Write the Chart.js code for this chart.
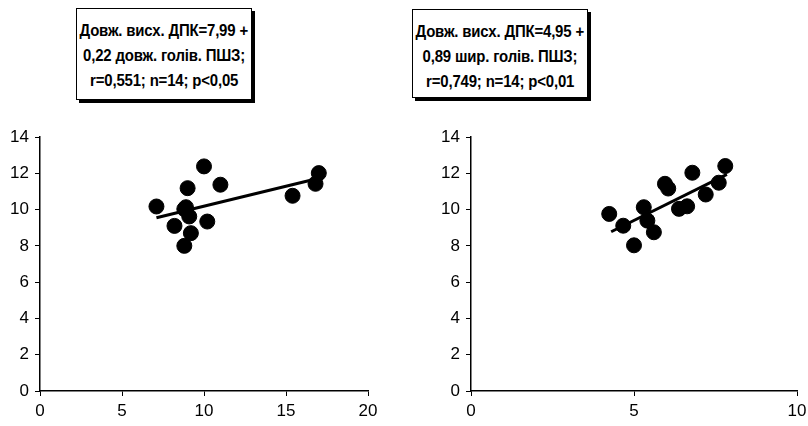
<!DOCTYPE html>
<html><head><meta charset="utf-8">
<script src="https://cdn.jsdelivr.net/npm/chart.js@4/dist/chart.umd.min.js"></script>
<style>
html,body{margin:0;padding:0;width:808px;height:426px;overflow:hidden;background:#fff;}
.cv{position:absolute;}
.box{position:absolute;border:1px solid #000;box-shadow:3px 3px 0 #000;background:#fff;
 font-family:"Liberation Sans",Arial,sans-serif;font-weight:bold;white-space:nowrap;
 font-size:17px;line-height:25px;color:#000;box-sizing:border-box;padding-top:9px;letter-spacing:-0.2px;}
.box .ln{display:flex;justify-content:center;}
.box .ln span{display:inline-block;transform:scaleX(0.88);transform-origin:50% 50%;}
</style></head><body>
<div class="box" id="boxL" style="left:76px;top:8px;width:176px;height:92px;"></div>
<div class="box" id="boxR" style="left:412px;top:9px;width:176px;height:89px;"></div>
<div class="cv" style="left:0;top:120px;width:400px;height:306px;"><canvas id="c1"></canvas></div>
<div class="cv" style="left:408px;top:120px;width:420px;height:306px;"><canvas id="c2"></canvas></div>
<script>
// Left chart: length of duodenum vs length of pancreatic head
const leftX = [7.1, 10.0, 9.0, 11.0, 8.8, 9.1, 8.2, 10.2, 9.2, 8.8, 15.4, 16.8, 17.0, 8.9];
const leftY = [10.17, 12.38, 11.18, 11.37, 10.03, 9.62, 9.10, 9.34, 8.70, 8.00, 10.76, 11.42, 12.01, 10.13];
const leftCoef = [7.99, 0.22];
const leftRange = [7.1, 17.0];
const leftText = ["Довж. висх. ДПК=7,99 +", "0,22 довж. голів. ПШЗ;", "r=0,551; n=14; p<0,05"];
const leftXTicks = [0, 5, 10, 15, 20];

// Right chart: length of duodenum vs width of pancreatic head
const rightX = [4.24, 4.67, 5.0, 5.30, 5.41, 5.61, 5.95, 6.05, 6.38, 6.63, 6.79, 7.20, 7.60, 7.80];
const rightY = [9.76, 9.11, 8.03, 10.13, 9.39, 8.75, 11.42, 11.16, 10.04, 10.18, 12.03, 10.83, 11.48, 12.40];
const rightCoef = [4.95, 0.89];
const rightRange = [4.3, 7.85];
const rightText = ["Довж. висх. ДПК=4,95 +", "0,89 шир. голів. ПШЗ;", "r=0,749; n=14; p<0,01"];
const rightXTicks = [0, 5, 10];

const yTicks = [0, 2, 4, 6, 8, 10, 12, 14];

function fillBox(id, lines){
  const el = document.getElementById(id);
  lines.forEach(t=>{
    const d = document.createElement('div'); d.className = 'ln';
    const s = document.createElement('span'); s.textContent = t;
    d.appendChild(s); el.appendChild(d);
  });
}
fillBox('boxL', leftText);
fillBox('boxR', rightText);

function makeChart(id, xs, ys, coef, range, xTicks, yAxisW, padRight){
  const pts = xs.map((x,i)=>({x:x, y:ys[i]}));
  const line = range.map(x=>({x:x, y:coef[0]+coef[1]*x}));
  const font = {family:"'Liberation Sans', Arial, sans-serif", size:17};
  new Chart(document.getElementById(id), {
    type:'scatter',
    data:{datasets:[
      {data:line, type:'line', borderColor:'#000', borderWidth:3, pointRadius:0, fill:false, order:2},
      {data:pts, backgroundColor:'#000', borderColor:'#000', pointRadius:7.5, pointHoverRadius:7.5, order:1}
    ]},
    options:{
      responsive:true, maintainAspectRatio:false, animation:false,
      layout:{padding:{top:17, right:padRight, left:0, bottom:0}},
      plugins:{legend:{display:false}, tooltip:{enabled:false}},
      scales:{
        x:{type:'linear', min:xTicks[0], max:xTicks[xTicks.length-1],
          afterBuildTicks:(s)=>{s.ticks = xTicks.map(v=>({value:v}));},
          afterFit:(s)=>{s.height = 35;},
          grid:{display:true, drawOnChartArea:false, color:'#000', tickLength:5, tickWidth:1},
          border:{color:'#000', width:1.5},
          ticks:{color:'#000', font:font, padding:5, maxRotation:0, autoSkip:false}},
        y:{type:'linear', min:0, max:14,
          afterBuildTicks:(s)=>{s.ticks = yTicks.map(v=>({value:v}));},
          afterFit:(s)=>{s.width = yAxisW;},
          grid:{display:true, drawOnChartArea:false, color:'#000', tickLength:5, tickWidth:1},
          border:{color:'#000', width:1.5},
          ticks:{color:'#000', font:font, padding:6, autoSkip:false}}
      }
    }
  });
}
makeChart('c1', leftX, leftY, leftCoef, leftRange, leftXTicks, 40, 32);
makeChart('c2', rightX, rightY, rightCoef, rightRange, rightXTicks, 63, 31);
</script>
</body></html>
